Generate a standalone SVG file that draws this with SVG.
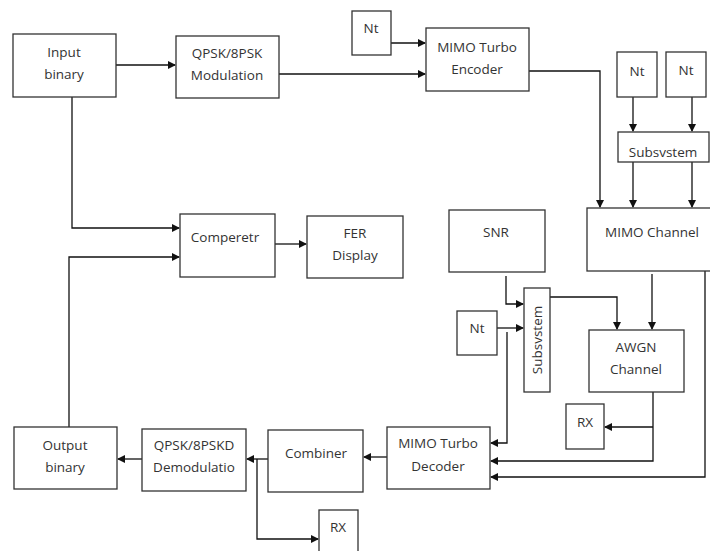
<svg xmlns="http://www.w3.org/2000/svg" width="710" height="551" viewBox="0 0 710 551">
<defs>
<marker id="ah" markerWidth="8" markerHeight="8" refX="7" refY="4" orient="auto" markerUnits="userSpaceOnUse">
<path d="M0,0 L8,4 L0,8 Z" fill="#111"/>
</marker>
<style>
.b{fill:#fff;stroke:#333;stroke-width:1.3}
.t{font-family:"Open Sans","Noto Sans","Liberation Sans",sans-serif;font-size:13.5px;fill:#333;text-anchor:middle}
.c{fill:none;stroke:#111;stroke-width:1.3}
.a{fill:none;stroke:#111;stroke-width:1.3;marker-end:url(#ah)}
</style>
</defs>
<rect width="710" height="551" fill="#fff"/>
<g id="connectors">
<path class="a" d="M116,65 H175"/>
<path class="a" d="M279,74 H425"/>
<path class="a" d="M391,43 H425"/>
<path class="a" d="M529,71 H600 V207"/>
<path class="a" d="M633,97 V131"/>
<path class="a" d="M692,97 V131"/>
<path class="a" d="M633,162 V207"/>
<path class="a" d="M692,162 V207"/>
<path class="a" d="M72,97 V228 H179"/>
<path class="a" d="M69,427 V257 H179"/>
<path class="a" d="M275,244 H306"/>
<path class="a" d="M506,276 V304 H523"/>
<path class="a" d="M497,328 H523"/>
<path class="a" d="M550,297 H617 V329"/>
<path class="a" d="M652,274 V329"/>
<path class="a" d="M507,332 V443 H491"/>
<path class="a" d="M653,392 V461 H491"/>
<path class="a" d="M653,427 H605"/>
<path class="a" d="M705,271 V477 H491"/>
<path class="a" d="M387,457 H364"/>
<path class="a" d="M268,459 H247"/>
<path class="a" d="M142,459 H118"/>
<path class="a" d="M257,459 V539 H318"/>
</g>
<g id="input-binary"><rect class="b" x="13" y="34" width="103" height="63"/><text class="t" x="64" y="57">Input</text><text class="t" x="64" y="79">binary</text></g>
<g id="modulation"><rect class="b" x="176" y="36" width="103" height="62"/><text class="t" x="227" y="58">QPSK/8PSK</text><text class="t" x="227" y="80">Modulation</text></g>
<g id="nt1"><rect class="b" x="352" y="11" width="39" height="44"/><text class="t" x="371" y="33">Nt</text></g>
<g id="encoder"><rect class="b" x="426" y="28" width="103" height="63"/><text class="t" x="477" y="52">MIMO Turbo</text><text class="t" x="477" y="74">Encoder</text></g>
<g id="nt2"><rect class="b" x="617" y="52" width="40" height="45"/><text class="t" x="637" y="76">Nt</text></g>
<g id="nt3"><rect class="b" x="666" y="52" width="40" height="45"/><text class="t" x="686" y="75">Nt</text></g>
<g id="subsystem1"><rect class="b" x="618" y="132" width="91" height="30"/><text class="t" x="663" y="157">Subsvstem</text></g>
<g id="comperetr"><rect class="b" x="180" y="214" width="95" height="63"/><text class="t" x="225" y="242">Comperetr</text></g>
<g id="fer"><rect class="b" x="307" y="216" width="96" height="62"/><text class="t" x="355" y="238">FER</text><text class="t" x="355" y="260">Display</text></g>
<g id="mimo-channel"><rect class="b" x="587" y="208" width="130" height="63"/><text class="t" x="652" y="237">MIMO Channel</text></g>
<g id="snr"><rect class="b" x="449" y="210" width="96" height="62"/><text class="t" x="496" y="237">SNR</text></g>
<g id="nt4"><rect class="b" x="457" y="311" width="40" height="44"/><text class="t" x="477" y="333">Nt</text></g>
<g id="subsystem2"><rect class="b" x="524" y="288" width="26" height="104"/><text class="t" transform="translate(542,340) rotate(-90)">Subsvstem</text></g>
<g id="awgn"><rect class="b" x="589" y="330" width="95" height="62"/><text class="t" x="636" y="352">AWGN</text><text class="t" x="636" y="374">Channel</text></g>
<g id="rx1"><rect class="b" x="566" y="404" width="38" height="45"/><text class="t" x="585" y="427">RX</text></g>
<g id="decoder"><rect class="b" x="387" y="427" width="103" height="62"/><text class="t" x="438" y="448">MIMO Turbo</text><text class="t" x="438" y="471">Decoder</text></g>
<g id="combiner"><rect class="b" x="268" y="430" width="95" height="62"/><text class="t" x="316" y="458">Combiner</text></g>
<g id="demodulation"><rect class="b" x="142" y="429" width="104" height="62"/><text class="t" x="194" y="450">QPSK/8PSKD</text><text class="t" x="194" y="472">Demodulatio</text></g>
<g id="output-binary"><rect class="b" x="14" y="427" width="103" height="62"/><text class="t" x="65" y="450">Output</text><text class="t" x="65" y="472">binary</text></g>
<g id="rx2"><rect class="b" x="319" y="510" width="39" height="45"/><text class="t" x="338" y="532">RX</text></g>
</svg>
